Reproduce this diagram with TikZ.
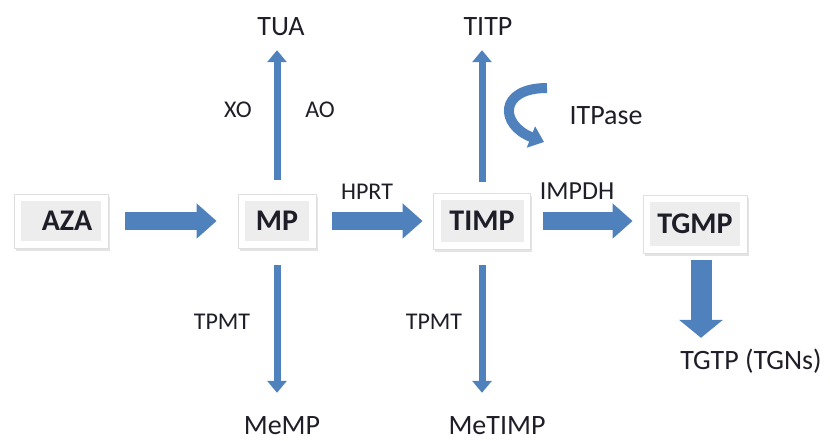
\documentclass[tikz,border=0pt]{standalone}
\usepackage{fontspec}
\setmainfont{Carlito}
\usetikzlibrary{arrows.meta,shadows,calc}
\definecolor{arr}{HTML}{4F81BD}
\definecolor{txt}{HTML}{1E1E28}
\begin{document}
\begin{tikzpicture}[x=1pt,y=-1pt,
  molbox/.style={fill=white, draw=gray!25, line width=0.8pt,
    drop shadow={opacity=0.22,shadow xshift=1.5pt,shadow yshift=-2.5pt},
    font=\fontsize{30}{34}\selectfont\bfseries, text=txt, inner sep=0pt,
    path picture={\fill[gray!14] ([shift={(7pt,7pt)}]path picture bounding box.south west) rectangle ([shift={(-7pt,-7pt)}]path picture bounding box.north east);}},
  big/.style={font=\fontsize{28}{32}\selectfont, text=txt, inner sep=0pt, text height=18pt, text depth=0pt},
  lab/.style={font=\fontsize{24}{28}\selectfont, text=txt, inner sep=0pt, text height=15.5pt, text depth=0pt},
  blockarr/.style={draw=arr, line width=18pt, -{Triangle[length=20pt,width=34pt]}},
  thinarr/.style={draw=arr, line width=7pt, -{Triangle[length=12pt,width=19pt]}},
  fatdown/.style={draw=arr, line width=21pt, -{Triangle[length=18pt,width=43pt]}},
  curvarr/.style={draw=arr, line width=10pt, -{Triangle[length=14pt,width=22pt]}}
]
\useasboundingbox[fill=white] (0,0) rectangle (830,440);

% boxes
\node[molbox, minimum width=94pt, minimum height=54pt] (aza) at (61,221) {\hspace*{12pt}AZA};
\node[molbox, minimum width=78pt, minimum height=54pt] (mp) at (277,221) {MP};
\node[molbox, minimum width=97pt, minimum height=56pt] (timp) at (482,221) {TIMP};
\node[molbox, minimum width=104pt, minimum height=58pt] (tgmp) at (695,224) {TGMP};

% end products
\node[big] (tua) at (281,26) {TUA};
\node[big] (titp) at (488,26) {TITP};
\node[big] (memp) at (282,425) {MeMP};
\node[big] (metimp) at (497,425) {MeTIMP};
\node[big] (tgtp) at (751,360) {TGTP (TGNs)};
\node[big] (itpase) at (606,115) {ITPase};

% enzyme labels
\node[lab] (xo) at (238,110) {XO};
\node[lab] (ao) at (320,110) {AO};
\node[lab] (hprt) at (367,192) {HPRT};
\node[lab, font=\fontsize{26}{30}\selectfont] (impdh) at (577,192) {IMPDH};
\node[lab] (tpmt1) at (222,322) {TPMT};
\node[lab] (tpmt2) at (434,322) {TPMT};

% block arrows
\draw[blockarr, shorten <=17pt, shorten >=21pt] (aza.east) -- (mp.west);
\draw[blockarr, shorten <=16pt, shorten >=10.5pt] (mp.east) -- (timp.west);
\draw[blockarr, shorten <=12.5pt, shorten >=10pt] (timp.east) -- (timp.east -| tgmp.west);
\draw[fatdown, shorten <=7pt, shorten >=13pt] ([xshift=6pt]tgmp.south) -- ([xshift=6pt]tgmp.south |- tgtp.north);

% thin arrows
\draw[thinarr, shorten <=14pt, shorten >=15pt] (mp.north) -- (mp.north |- tua.south);
\draw[thinarr, shorten <=11pt, shorten >=15pt] (timp.north) -- (timp.north |- titp.south);
\draw[thinarr, shorten <=17pt, shorten >=23pt] (mp.south) -- (mp.south |- memp.north);
\draw[thinarr, shorten <=16pt, shorten >=23pt] (timp.south) -- (timp.south |- metimp.north);

% curved ITPase arrow
\coordinate (ca) at (547,88);
\coordinate (cb) at (544,142);
\draw[curvarr] (ca) .. controls (498,88) and (500,125) .. (cb);
\end{tikzpicture}
\end{document}
